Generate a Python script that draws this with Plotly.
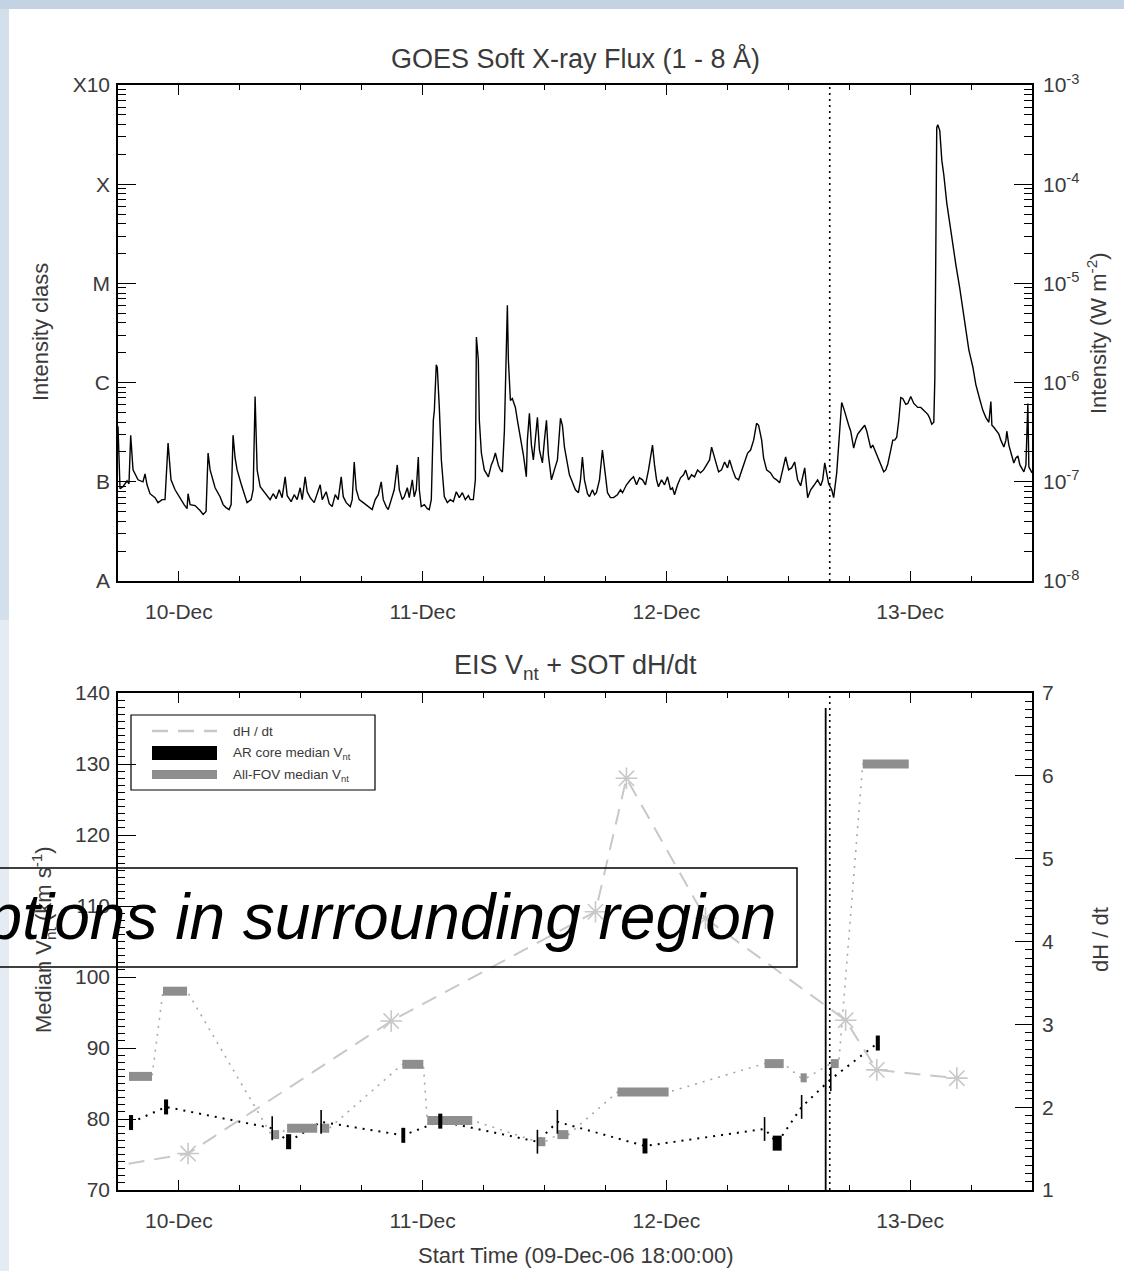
import numpy as np
import pandas as pd
import plotly.graph_objects as go

# ---------------- data ----------------
T0 = pd.Timestamp("2006-12-09 18:00")
X_RANGE = ["2006-12-09 18:00", "2006-12-13 12:00"]

# GOES 1-8 A flux: hours since 09-Dec-06 18:00 and log10(flux / W m^-2)
goes_hours = [
    0.00, 0.20, 0.49, 0.89, 1.08, 1.25, 1.48, 1.97, 2.46, 2.66,
    2.86, 3.15, 3.65, 3.94, 4.34, 4.63, 4.93, 5.22, 5.62, 6.11,
    6.51, 6.80, 6.90, 7.10, 7.59, 8.08, 8.38, 8.67, 8.87, 9.07,
    9.26, 9.56, 10.05, 10.35, 10.64, 10.94, 11.14, 11.33, 11.53, 11.73,
    12.12, 12.42, 12.71, 13.11, 13.31, 13.50, 13.70, 14.00, 14.39, 14.78,
    14.98, 15.28, 15.57, 15.87, 16.16, 16.46, 16.66, 17.05, 17.35, 17.64,
    17.94, 18.14, 18.43, 18.63, 18.92, 19.32, 19.61, 19.91, 20.11, 20.50,
    20.80, 21.09, 21.39, 21.68, 21.98, 22.18, 22.47, 22.87, 23.06, 23.26,
    23.46, 23.75, 24.15, 24.54, 24.84, 25.03, 25.33, 25.63, 25.92, 26.12,
    26.41, 26.61, 26.91, 27.20, 27.50, 27.70, 27.99, 28.19, 28.49, 28.68,
    28.98, 29.17, 29.37, 29.57, 29.67, 29.86, 30.16, 30.46, 30.65, 30.85,
    31.05, 31.15, 31.34, 31.44, 31.64, 31.84, 32.13, 32.43, 32.72, 33.02,
    33.31, 33.61, 33.91, 34.20, 34.50, 34.69, 34.99, 35.19, 35.29, 35.48,
    35.58, 35.78, 36.07, 36.27, 36.47, 36.76, 36.96, 37.16, 37.45, 37.65,
    37.85, 38.05, 38.14, 38.34, 38.44, 38.64, 38.83, 39.13, 39.33, 39.62,
    39.92, 40.21, 40.31, 40.51, 40.71, 40.90, 41.10, 41.30, 41.50, 41.79,
    41.99, 42.19, 42.38, 42.68, 42.97, 43.27, 43.57, 43.76, 43.96, 44.25,
    44.45, 44.65, 45.04, 45.34, 45.54, 45.73, 45.93, 46.23, 46.42, 46.72,
    46.92, 47.11, 47.41, 47.70, 47.90, 48.20, 48.49, 48.79, 49.18, 49.48,
    49.68, 50.07, 50.46, 50.76, 51.06, 51.35, 51.65, 51.94, 52.24, 52.44,
    52.63, 52.83, 53.03, 53.22, 53.52, 53.82, 54.11, 54.41, 54.60, 54.80,
    55.10, 55.39, 55.69, 55.89, 56.18, 56.48, 56.77, 57.07, 57.36, 57.66,
    57.96, 58.25, 58.45, 58.65, 58.94, 59.14, 59.43, 59.73, 60.02, 60.22,
    60.52, 60.81, 61.11, 61.41, 61.70, 62.00, 62.29, 62.59, 62.88, 63.08,
    63.38, 63.57, 63.87, 64.26, 64.56, 64.85, 65.15, 65.45, 65.74, 66.04,
    66.33, 66.63, 66.92, 67.22, 67.62, 67.91, 68.21, 68.50, 68.89, 69.19,
    69.39, 69.59, 69.78, 69.98, 70.28, 70.47, 70.77, 70.97, 71.26, 71.46,
    71.66, 71.95, 72.15, 72.44, 72.64, 72.84, 73.13, 73.33, 73.53, 73.73,
    73.92, 74.12, 74.32, 74.61, 74.91, 75.20, 75.40, 75.60, 75.80, 76.09,
    76.29, 76.48, 76.68, 76.88, 77.08, 77.27, 77.57, 77.77, 78.06, 78.36,
    78.75, 79.05, 79.34, 79.54, 79.74, 79.93, 80.13, 80.33, 80.43, 80.53,
    80.62, 80.72, 80.92, 81.12, 81.31, 81.61, 81.90, 82.20, 82.50, 82.89,
    83.19, 83.48, 83.78, 84.17, 84.47, 84.86, 85.16, 85.45, 85.75, 85.95,
    86.05, 86.24, 86.44, 86.74, 86.93, 87.23, 87.43, 87.52, 87.72, 87.92,
    88.21, 88.41, 88.61, 88.81, 88.90, 89.20, 89.40, 89.59, 89.69, 89.89,
    90.00,
]
goes_logflux = [
    -6.44, -7.07, -7.05, -6.99, -7.02, -6.53, -6.88, -6.98, -7.00, -6.92,
    -7.03, -7.12, -7.16, -7.21, -7.18, -7.18, -6.61, -6.98, -7.08, -7.17,
    -7.23, -7.27, -7.12, -7.23, -7.24, -7.29, -7.33, -7.30, -6.71, -6.88,
    -6.95, -7.06, -7.15, -7.23, -7.26, -7.28, -7.23, -6.53, -6.76, -6.88,
    -7.02, -7.13, -7.21, -7.18, -7.08, -6.14, -6.88, -7.05, -7.10, -7.16,
    -7.18, -7.12, -7.17, -7.08, -7.16, -6.95, -7.14, -7.20, -7.13, -7.18,
    -7.06, -7.18, -6.95, -7.10, -7.16, -7.21, -7.13, -7.03, -7.18, -7.10,
    -7.22, -7.25, -7.13, -7.18, -6.95, -7.15, -7.21, -7.25, -7.18, -6.80,
    -7.08, -7.18, -7.21, -7.24, -7.27, -7.28, -7.18, -7.13, -7.00, -7.18,
    -7.25, -7.28, -7.18, -7.08, -6.83, -7.08, -7.18, -7.15, -7.06, -7.16,
    -6.98, -7.15, -7.08, -6.75, -7.08, -7.25, -7.23, -7.27, -7.28, -7.18,
    -6.38, -6.28, -5.82, -5.85, -6.25, -6.78, -7.15, -7.21, -7.18, -7.20,
    -7.10, -7.16, -7.11, -7.18, -7.14, -7.18, -7.18, -6.98, -5.54, -5.77,
    -6.38, -6.71, -6.88, -6.92, -6.95, -6.83, -6.78, -6.71, -6.83, -6.88,
    -6.90, -6.48, -6.07, -5.22, -5.77, -6.18, -6.16, -6.25, -6.38, -6.55,
    -6.73, -6.95, -6.58, -6.31, -6.63, -6.78, -6.58, -6.35, -6.68, -6.81,
    -6.58, -6.38, -6.73, -6.98, -6.88, -6.78, -6.36, -6.43, -6.65, -6.83,
    -6.93, -6.98, -7.08, -7.11, -6.98, -6.75, -6.98, -7.12, -7.15, -7.08,
    -7.13, -7.11, -6.98, -6.68, -6.88, -7.11, -7.16, -7.16, -7.13, -7.08,
    -7.11, -7.03, -6.98, -6.95, -7.03, -6.96, -6.98, -7.03, -6.88, -6.73,
    -6.63, -6.83, -6.98, -7.05, -6.98, -7.03, -6.95, -7.08, -7.06, -7.13,
    -7.03, -6.96, -6.93, -6.88, -6.98, -6.93, -6.95, -6.88, -6.91, -6.88,
    -6.83, -6.78, -6.65, -6.73, -6.83, -6.90, -6.88, -6.80, -6.86, -6.78,
    -6.88, -6.96, -6.98, -6.88, -6.80, -6.71, -6.68, -6.58, -6.41, -6.43,
    -6.58, -6.76, -6.88, -6.91, -6.96, -6.98, -7.01, -6.88, -6.75, -6.88,
    -6.86, -6.80, -6.98, -7.04, -6.86, -7.16, -7.08, -7.04, -6.98, -7.04,
    -6.98, -6.81, -6.93, -7.02, -7.08, -7.16, -6.91, -6.58, -6.20, -6.26,
    -6.34, -6.43, -6.49, -6.66, -6.58, -6.52, -6.48, -6.45, -6.43, -6.49,
    -6.58, -6.66, -6.63, -6.70, -6.78, -6.84, -6.90, -6.88, -6.82, -6.68,
    -6.58, -6.58, -6.55, -6.38, -6.15, -6.16, -6.22, -6.21, -6.14, -6.21,
    -6.25, -6.25, -6.28, -6.30, -6.32, -6.36, -6.42, -6.40, -5.97, -4.66,
    -3.43, -3.40, -3.46, -3.76, -3.90, -4.19, -4.41, -4.61, -4.81, -5.05,
    -5.27, -5.48, -5.67, -5.84, -6.02, -6.17, -6.28, -6.35, -6.40, -6.19,
    -6.43, -6.45, -6.48, -6.52, -6.58, -6.65, -6.58, -6.49, -6.63, -6.71,
    -6.81, -6.76, -6.74, -6.83, -6.85, -6.90, -6.83, -6.21, -6.85, -6.88,
    -6.91,
]

# GOES class axis
class_vals = [1e-8, 1e-7, 1e-6, 1e-5, 1e-4, 1e-3]
class_labels = ["A", "B", "C", "M", "X", "X10"]
flux_labels = ["10<sup>-8</sup>", "10<sup>-7</sup>", "10<sup>-6</sup>",
               "10<sup>-5</sup>", "10<sup>-4</sup>", "10<sup>-3</sup>"]

day_ticks = ["2006-12-10", "2006-12-11", "2006-12-12", "2006-12-13"]
day_labels = ["10-Dec", "11-Dec", "12-Dec", "13-Dec"]

# EIS AR-core median Vnt (km/s): rasters with start / end times
core_start = ["2006-12-09 19:05", "2006-12-09 22:32", "2006-12-10 10:33", "2006-12-10 21:54",
              "2006-12-11 01:32", "2006-12-11 21:39", "2006-12-12 10:28", "2006-12-12 20:37"]
core_end = ["2006-12-09 19:29", "2006-12-09 22:56", "2006-12-10 11:03", "2006-12-10 22:17",
            "2006-12-11 01:56", "2006-12-11 22:08", "2006-12-12 11:21", "2006-12-12 21:01"]
core_val = [79.5, 81.7, 76.8, 77.7, 79.7, 76.2, 76.6, 90.7]

# short AR-core snapshots
snap_time = ["2006-12-10 09:11", "2006-12-10 14:00", "2006-12-11 11:18", "2006-12-11 13:16",
             "2006-12-12 09:40", "2006-12-12 13:19", "2006-12-12 16:11"]
snap_val = [78.7, 79.6, 76.8, 79.6, 78.6, 81.7, 85.6]

# EIS all-FOV median Vnt (km/s)
fov_start = ["2006-12-09 19:05", "2006-12-09 22:26", "2006-12-10 09:05", "2006-12-10 10:39",
             "2006-12-10 13:55", "2006-12-10 22:00", "2006-12-11 00:27", "2006-12-11 11:18",
             "2006-12-11 13:16", "2006-12-11 19:11", "2006-12-12 09:40", "2006-12-12 13:13",
             "2006-12-12 16:11", "2006-12-12 19:20"]
fov_end = ["2006-12-09 21:21", "2006-12-10 00:48", "2006-12-10 09:52", "2006-12-10 13:37",
           "2006-12-10 14:48", "2006-12-11 00:04", "2006-12-11 04:53", "2006-12-11 12:05",
           "2006-12-11 14:21", "2006-12-12 00:13", "2006-12-12 11:33", "2006-12-12 13:49",
           "2006-12-12 16:58", "2006-12-12 23:52"]
fov_val = [86.0, 98.0, 77.8, 78.7, 78.7, 87.7, 79.8, 76.8, 77.8, 83.8, 87.8, 85.8, 87.8, 130.0]

# SOT dH/dt
dhdt_time = ["2006-12-09 14:00", "2006-12-10 00:54", "2006-12-10 20:54", "2006-12-11 17:01",
             "2006-12-11 20:04", "2006-12-12 03:51", "2006-12-12 17:39", "2006-12-12 20:43",
             "2006-12-13 04:36"]
dhdt_val = [1.21, 1.44, 3.04, 4.36, 5.97, 4.28, 3.05, 2.45, 2.35]

flare_line_time = "2006-12-12 16:05"
eis_line_time = "2006-12-12 15:41"
eis_line_top = 137.9

# ---------------- layout helpers ----------------
W, H = 1124, 1271
def px(x):
    return x / W
def py(y):
    return 1 - y / H

FONT = "Liberation Sans, Arial, Helvetica, sans-serif"
TXT = "#3a3a3a"
X_DOM = [px(118), px(1032)]
Y_TOP = [py(581), py(85)]
Y_BOT = [py(1190), py(693)]

goes_time = T0 + pd.to_timedelta(goes_hours, unit="h")
goes_flux = 10 ** np.array(goes_logflux)

fig = go.Figure()
fig.add_trace(go.Scatter(x=goes_time, y=goes_flux, mode="lines",
                         line=dict(color="black", width=1.4),
                         xaxis="x", yaxis="y", showlegend=False, hoverinfo="skip"))
# same flux on the right-hand (W m^-2) axis, drawn invisibly so that axis is built
fig.add_trace(go.Scatter(x=goes_time, y=goes_flux, mode="lines",
                         line=dict(color="rgba(0,0,0,0)", width=0),
                         xaxis="x", yaxis="y2", showlegend=False, hoverinfo="skip"))

# all-FOV dotted connector
fx, fy = [], []
for s, e, v in zip(fov_start, fov_end, fov_val):
    fx += [s, e]
    fy += [v, v]
fig.add_trace(go.Scatter(x=fx, y=fy, mode="lines",
                         line=dict(color="#a8a8a8", width=1.6, dash="2px,6px"),
                         xaxis="x2", yaxis="y3", showlegend=False, hoverinfo="skip"))

# AR core dotted connector (time ordered)
ev = []
for s, e, v in zip(core_start, core_end, core_val):
    ts, te = pd.Timestamp(s), pd.Timestamp(e)
    ev.append((ts + (te - ts) / 2, v))
for t, v in zip(snap_time, snap_val):
    ev.append((pd.Timestamp(t), v))
ev.sort()
fig.add_trace(go.Scatter(x=[a for a, b in ev], y=[b for a, b in ev], mode="lines",
                         line=dict(color="black", width=2, dash="2px,6px"),
                         xaxis="x2", yaxis="y3", showlegend=False, hoverinfo="skip"))

# all-FOV bars
bx, by = [], []
for s, e, v in zip(fov_start, fov_end, fov_val):
    bx += [s, e, None]
    by += [v, v, None]
fig.add_trace(go.Scatter(x=bx, y=by, mode="lines", connectgaps=False,
                         line=dict(color="#8e8e8e", width=9),
                         xaxis="x2", yaxis="y3", showlegend=False, hoverinfo="skip"))

# AR core bars
cx, cy = [], []
for s, e, v in zip(core_start, core_end, core_val):
    cx += [s, e, None]
    cy += [v, v, None]
fig.add_trace(go.Scatter(x=cx, y=cy, mode="lines", connectgaps=False,
                         line=dict(color="black", width=15),
                         xaxis="x2", yaxis="y3", showlegend=False, hoverinfo="skip"))
fig.add_trace(go.Scatter(x=snap_time, y=snap_val, mode="markers",
                         marker=dict(symbol="line-ns", size=17,
                                     line=dict(color="black", width=1.6)),
                         xaxis="x2", yaxis="y3", showlegend=False, hoverinfo="skip"))

# dH/dt
fig.add_trace(go.Scatter(x=dhdt_time, y=dhdt_val, mode="lines+markers",
                         line=dict(color="#c8c8c8", width=2, dash="16px,10px"),
                         marker=dict(symbol="asterisk-open", size=18,
                                     line=dict(color="#c0c0c0", width=1.6)),
                         xaxis="x2", yaxis="y4", showlegend=False, hoverinfo="skip"))

tickfont = dict(family=FONT, size=21, color=TXT)

def xaxis_cfg(anchor):
    return dict(domain=X_DOM, anchor=anchor, type="date", range=X_RANGE,
                tickmode="array", tickvals=day_ticks, ticktext=day_labels,
                ticks="inside", ticklen=10, tickwidth=1.2, tickcolor="black",
                showline=True, linecolor="black", linewidth=1.6, mirror="ticks",
                showgrid=False, zeroline=False, tickfont=tickfont,
                ticklabelstandoff=11, automargin=False,
                minor=dict(tickmode="linear", tick0="2006-12-09 18:00", dtick=6 * 3600 * 1000,
                           ticks="inside", ticklen=5, tickwidth=1.1, tickcolor="black",
                           showgrid=False))

log_minor = [k * 10.0 ** n for n in range(-8, -3) for k in range(2, 10)]

def ylog_cfg(side, labels, standoff, overlay=None):
    d = dict(domain=Y_TOP, anchor="x", type="log", range=[-8, -3], side=side,
             tickmode="array", tickvals=class_vals, ticktext=labels,
             ticks="inside", ticklen=18, tickwidth=1.2, tickcolor="black",
             showline=True, linecolor="black", linewidth=1.6,
             showgrid=False, zeroline=False, tickfont=tickfont,
             ticklabelstandoff=standoff, automargin=False,
             minor=dict(tickmode="array", tickvals=log_minor, ticks="inside", ticklen=8,
                        tickwidth=1.1, tickcolor="black", showgrid=False))
    if overlay:
        d["overlaying"] = overlay
    return d

fig.update_layout(
    width=W, height=H, autosize=False,
    margin=dict(l=0, r=0, t=0, b=0, pad=0),
    paper_bgcolor="white", plot_bgcolor="white",
    font=dict(family=FONT, color=TXT),
    showlegend=False,
    xaxis=xaxis_cfg("y"),
    xaxis2=xaxis_cfg("y3"),
    yaxis=ylog_cfg("left", class_labels, 2),
    yaxis2=ylog_cfg("right", flux_labels, 5, overlay="y"),
    yaxis3=dict(domain=Y_BOT, anchor="x2", range=[70, 140], side="left",
                tickmode="linear", tick0=70, dtick=10,
                ticks="inside", ticklen=18, tickwidth=1.2, tickcolor="black",
                showline=True, linecolor="black", linewidth=1.6,
                showgrid=False, zeroline=False, tickfont=tickfont,
                ticklabelstandoff=2, automargin=False,
                minor=dict(tickmode="linear", tick0=70, dtick=1, ticks="inside", ticklen=7,
                           tickwidth=1.1, tickcolor="black", showgrid=False)),
    yaxis4=dict(domain=Y_BOT, anchor="x2", overlaying="y3", range=[1, 7], side="right",
                tickmode="linear", tick0=1, dtick=1,
                ticks="inside", ticklen=17, tickwidth=1.2, tickcolor="black",
                showline=True, linecolor="black", linewidth=1.6,
                showgrid=False, zeroline=False, tickfont=tickfont,
                ticklabelstandoff=4, automargin=False,
                minor=dict(tickmode="linear", tick0=1, dtick=0.1, ticks="inside", ticklen=7,
                           tickwidth=1.1, tickcolor="black", showgrid=False)),
)

shapes = [
    # page border strips
    dict(type="rect", xref="paper", yref="paper", x0=0, x1=1, y0=py(9), y1=1,
         fillcolor="#c3d3e3", line=dict(width=0), layer="below"),
    dict(type="rect", xref="paper", yref="paper", x0=0, x1=px(9), y0=py(620), y1=py(9),
         fillcolor="#d3dfeb", line=dict(width=0), layer="below"),
    dict(type="rect", xref="paper", yref="paper", x0=0, x1=px(9), y0=0, y1=py(620),
         fillcolor="#e4ebf3", line=dict(width=0), layer="below"),
    # event lines
    dict(type="line", xref="x", yref="y domain", x0=flare_line_time, x1=flare_line_time,
         y0=0, y1=1, line=dict(color="black", width=1.6, dash="2px,4px")),
    dict(type="line", xref="x2", yref="y3 domain", x0=flare_line_time, x1=flare_line_time,
         y0=0, y1=1, line=dict(color="black", width=1.6, dash="2px,4px")),
    dict(type="line", xref="x2", yref="y3", x0=eis_line_time, x1=eis_line_time,
         y0=70, y1=eis_line_top, line=dict(color="black", width=1.8)),
    # legend
    dict(type="rect", xref="paper", yref="paper", x0=px(131), x1=px(375), y0=py(790), y1=py(715),
         line=dict(color="black", width=1.2), fillcolor="rgba(0,0,0,0)"),
    dict(type="line", xref="paper", yref="paper", x0=px(152), x1=px(217), y0=py(731), y1=py(731),
         line=dict(color="#c8c8c8", width=2.5, dash="16px,10px")),
    dict(type="rect", xref="paper", yref="paper", x0=px(152), x1=px(217), y0=py(760), y1=py(746),
         fillcolor="black", line=dict(width=0)),
    dict(type="rect", xref="paper", yref="paper", x0=px(152), x1=px(217), y0=py(779), y1=py(770),
         fillcolor="#8e8e8e", line=dict(width=0)),
    # overlay caption box
    dict(type="rect", xref="paper", yref="paper", x0=px(-10), x1=px(797), y0=py(967), y1=py(868),
         line=dict(color="black", width=1.5), fillcolor="rgba(0,0,0,0)"),
]
fig.update_layout(shapes=shapes)

def ann(text, x, y, size=22, angle=0, xanchor="center", color=TXT, **kw):
    return dict(text=text, x=px(x), y=py(y), xref="paper", yref="paper", showarrow=False,
                xanchor=xanchor, yanchor="middle", textangle=angle,
                font=dict(family=FONT, size=size, color=color), **kw)

annotations = [
    ann("GOES Soft X-ray Flux (1 - 8 Å)", 575, 58, size=27),
    ann("EIS V<sub>nt</sub> + SOT dH/dt", 575, 667, size=27),
    ann("Intensity class", 40, 332, angle=-90),
    ann("Intensity (W m<sup>-2</sup>)", 1097, 333, angle=-90),
    ann("Median V<sub>nt</sub> (km s<sup>-1</sup>)", 43, 940, angle=-90),
    ann("dH / dt", 1100, 940, angle=-90),
    ann("Start Time (09-Dec-06 18:00:00)", 575, 1255),
    ann("dH / dt", 231, 731, size=13.5, xanchor="left"),
    ann("AR core median V<sub>nt</sub>", 231, 753, size=13.5, xanchor="left"),
    ann("All-FOV median V<sub>nt</sub>", 231, 775, size=13.5, xanchor="left"),
    ann("<i>Eruptions in surrounding region</i>", 778, 917, size=64, xanchor="right",
        color="black"),
]
fig.update_layout(annotations=annotations)

fig.write_html("out.html")
